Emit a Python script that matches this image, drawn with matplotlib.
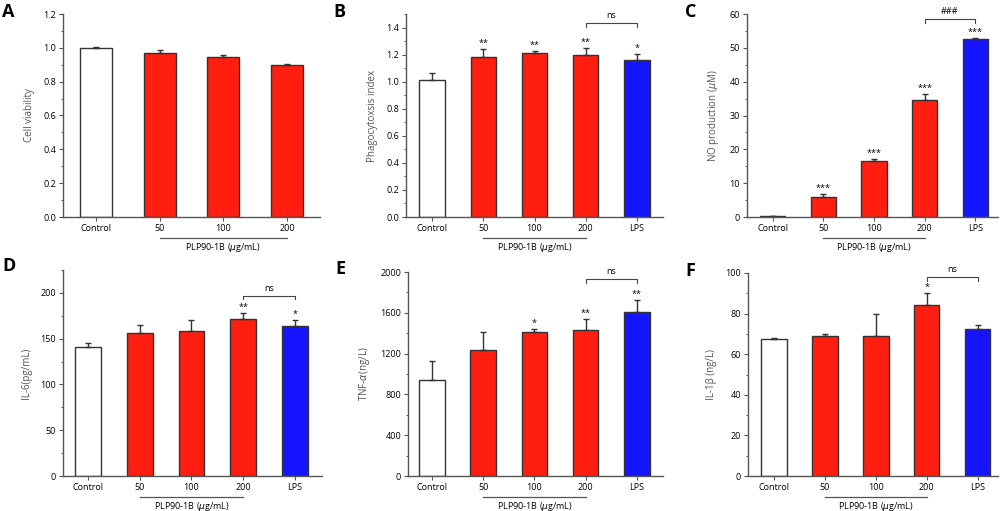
import numpy as np
import matplotlib
matplotlib.use("Agg")
import matplotlib.pyplot as plt
import matplotlib.transforms as mtransforms

plt.rcParams['font.family'] = ['Open Sans', 'DejaVu Sans']
plt.rcParams['mathtext.fontset'] = 'dejavusans'

# ---- data ----
groups5 = ['Control', '50', '100', '200', 'LPS']
groups4 = ['Control', '50', '100', '200']

viab = [1.00, 0.970, 0.943, 0.900]
viab_err = [0.005, 0.015, 0.015, 0.003]

phago = [1.01, 1.18, 1.21, 1.20, 1.16]
phago_err = [0.055, 0.06, 0.02, 0.05, 0.045]
phago_sig = ['', '**', '**', '**', '*']

no_prod = [0.3, 6.0, 16.5, 34.7, 52.6]
no_err = [0.1, 0.9, 0.7, 1.8, 0.4]
no_sig = ['', '***', '***', '***', '***']

il6 = [141, 156, 158, 172, 164]
il6_err = [4, 9, 12, 6, 6]
il6_sig = ['', '', '', '**', '*']

tnf = [940, 1240, 1415, 1430, 1610]
tnf_err = [190, 175, 25, 110, 115]
tnf_sig = ['', '', '*', '**', '**']

il1b = [67.5, 68.8, 69.2, 84.3, 72.2]
il1b_err = [0.3, 1.3, 10.5, 6.0, 2.0]
il1b_sig = ['', '', '', '*', '']

W, H = 1005, 511
RED = '#ff1e10'
BLUE = '#1414ff'
EDGE = '#333333'

fig = plt.figure(figsize=(W / 100, H / 100), dpi=100)


def make_ax(l, r, t, b):
    return fig.add_axes([l / W, (H - b) / H, (r - l) / W, (b - t) / H])


def panel(ax, letter, lpos, names, vals, errs, ylim, major, minor, ylabel,
          xlim, sig=None, bracket=None):
    n = len(vals)
    x = np.arange(n)
    colors = ['white'] + [RED] * 3 + [BLUE] * (n - 4)
    ax.bar(x, vals, width=0.5, color=colors, edgecolor=EDGE, linewidth=1,
           yerr=[np.zeros(n), errs], capsize=2,
           error_kw=dict(ecolor=EDGE, elinewidth=1, capthick=1), zorder=2)
    ax.set_xlim(*xlim)
    ax.set_ylim(*ylim)
    ax.set_yticks(np.arange(0, ylim[1] + 1e-9, major))
    ax.set_yticks(np.arange(0, ylim[1] + 1e-9, minor), minor=True)
    ax.set_xticks(x)
    ax.set_xticklabels(names)
    for s in ['top', 'right']:
        ax.spines[s].set_visible(False)
    for s in ['left', 'bottom']:
        ax.spines[s].set_color('#555555')
        ax.spines[s].set_linewidth(1)
    ax.tick_params(axis='both', which='major', direction='out', length=3,
                   width=0.8, color='#555555', labelsize=6.5, pad=2)
    ax.tick_params(axis='y', which='minor', direction='out', length=1.8,
                   width=0.7, color='#555555')
    ax.set_ylabel(ylabel, fontsize=7, color='#555555', labelpad=6)
    fig.text(lpos[0] / W, 1 - lpos[1] / H, letter, fontsize=13,
             fontweight='bold', va='top', ha='left')
    # dose bracket below the axis
    tr = mtransforms.blended_transform_factory(ax.transData, ax.transAxes)
    dy = 21 / (ax.get_position().height * H)
    ax.plot([1, 3], [-dy, -dy], transform=tr, color='#555555', lw=0.9,
            clip_on=False)
    ax.text(2, -dy - 3 / (ax.get_position().height * H),
            r'PLP90-1B ($\mu$g/mL)', transform=tr, ha='center', va='top',
            fontsize=6.5)
    span = ylim[1] - ylim[0]
    if sig:
        for i, s in enumerate(sig):
            if s:
                ax.text(i, vals[i] + errs[i] + span * 0.005, s, ha='center',
                        va='bottom', fontsize=6.5)
    if bracket:
        lvl, label = bracket
        tk = span * 0.018
        ax.plot([3, 3, 4, 4], [lvl - tk, lvl, lvl, lvl - tk], color='#444444',
                lw=0.8, clip_on=False)
        ax.text(3.5, lvl + span * 0.015, label, ha='center', va='bottom',
                fontsize=6.5, clip_on=False)


axA = make_ax(63, 320, 14, 217)
panel(axA, 'A', (2, 3), groups4, viab, viab_err, (0, 1.2), 0.2, 0.1,
      'Cell viability', (-0.52, 3.52))

axB = make_ax(406, 663, 14, 217)
panel(axB, 'B', (333, 3), groups5, phago, phago_err, (0, 1.5), 0.2, 0.1,
      'Phagocytoxsis index', (-0.51, 4.51), sig=phago_sig,
      bracket=(1.43, 'ns'))

axC = make_ax(747, 998, 14, 217)
panel(axC, 'C', (685, 3), groups5, no_prod, no_err, (0, 60), 10, 5,
      r'NO production ($\mu$M)', (-0.51, 4.45), sig=no_sig,
      bracket=(58.5, '###'))

axD = make_ax(63, 322, 270, 476)
panel(axD, 'D', (2, 257), groups5, il6, il6_err, (0, 225), 50, 25,
      'IL-6(pg/mL)', (-0.48, 4.52), sig=il6_sig, bracket=(197, 'ns'))

axE = make_ax(408, 663, 272, 476)
panel(axE, 'E', (335, 260), groups5, tnf, tnf_err, (0, 2000), 400, 200,
      r'TNF-$\alpha$(ng/L)', (-0.47, 4.51), sig=tnf_sig,
      bracket=(1930, 'ns'))

axF = make_ax(748, 998, 273, 476)
panel(axF, 'F', (685, 262), groups5, il1b, il1b_err, (0, 100), 20, 10,
      'IL-1β (ng/L)', (-0.51, 4.4), sig=il1b_sig, bracket=(98, 'ns'))

fig.savefig('out.png', dpi=100)
